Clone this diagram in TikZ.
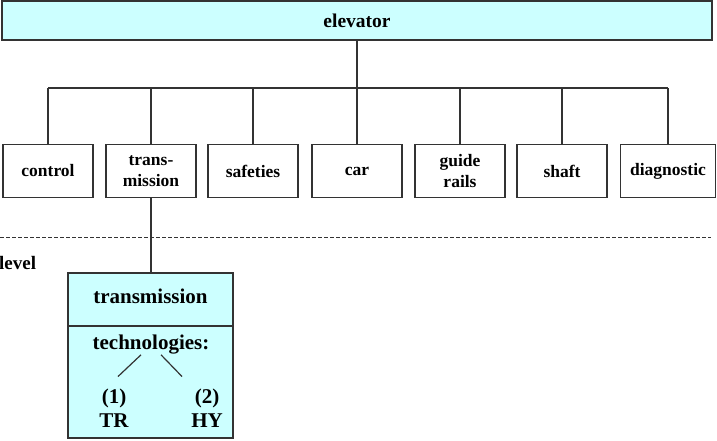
\documentclass[tikz,border=0pt]{standalone}
\usepackage{fontspec}
\setmainfont{Liberation Serif}[BoldFont={Liberation Serif Bold}]
\usetikzlibrary{calc}

\definecolor{ink}{HTML}{333333}
\definecolor{pale}{HTML}{CCFFFF}

\tikzset{
  block/.style={
    draw=ink,
    line width=1.2pt,
    align=center,
    inner sep=0pt,
    font=\rmfamily\bfseries\fontsize{17.5}{21}\selectfont,
  },
  part/.style={
    block,
    minimum width=90pt,
    minimum height=53pt,
  },
  detail/.style={
    block,
    fill=pale,
    line width=2.2pt,
    minimum width=165pt,
  },
  label/.style={
    inner sep=0pt,
    align=center,
    font=\rmfamily\bfseries\fontsize{21}{24}\selectfont,
  },
  link/.style={
    draw=ink,
    line width=1.2pt,
  },
  cut/.style={
    draw=ink,
    line width=1pt,
    dash pattern=on 4pt off 2pt,
  },
}

\begin{document}
\begin{tikzpicture}[x=1pt, y=-1pt]

      \useasboundingbox (0,0) rectangle (717,440);

      \node[block, fill=pale, minimum width=710pt, minimum height=39pt,
        font=\rmfamily\bfseries\fontsize{19.5}{22}\selectfont](elevator) at (357,20.5) {elevator};

      \foreach \name/\x/\txt in {ctl/48/control, trm/151/{trans-\\mission},
          saf/253/safeties, car/357/car, rail/460/{guide\\rails},
          shaft/562/shaft} {
        \node[part](\name) at (\x,171) {\txt};
      };
      \node[part, minimum width=95pt](diag) at (668,171) {diagnostic};

      \coordinate(bus) at (357,88);
      \draw[link] (elevator.south) -- (bus);
      \draw[link] (ctl.north |- bus) -- (diag.north |- bus);
      \draw[link] foreach \n in {ctl,trm,saf,car,rail,shaft,diag} { (\n.north) -- (\n.north |- bus) };

      % cut between the levels
      \coordinate(cutl) at (0,237);
      \coordinate(cutr) at (711,237);
      \draw[cut] (cutl) -- (cutr);
      \node[label, anchor=west, font=\rmfamily\bfseries\fontsize{19}{22}\selectfont](lvl) at (-1,263) {level};

      % transmission, one level down
      \node[detail, minimum height=53pt](dhead) at (150.5,299.5) {};
      \node[detail, minimum height=112pt](dbody) at (150.5,382) {};
      \node[label](dname) at (150.5,296) {transmission};
      \draw[link] (trm.south) -- (trm.south |- dhead.north);

      \node[label](tech) at (151,345) {technologies:};
      \node[label](tr) at (114,408) {(1)\\TR};
      \node[label](hy) at (207,408) {(2)\\HY};
      \draw[link] ([xshift=-10pt]tech.south) -- ([xshift=4pt, yshift=12pt]tr.north);
      \draw[link] ([xshift=10pt]tech.south) -- ([xshift=-25pt, yshift=12pt]hy.north);

    \end{tikzpicture}
\end{document}
